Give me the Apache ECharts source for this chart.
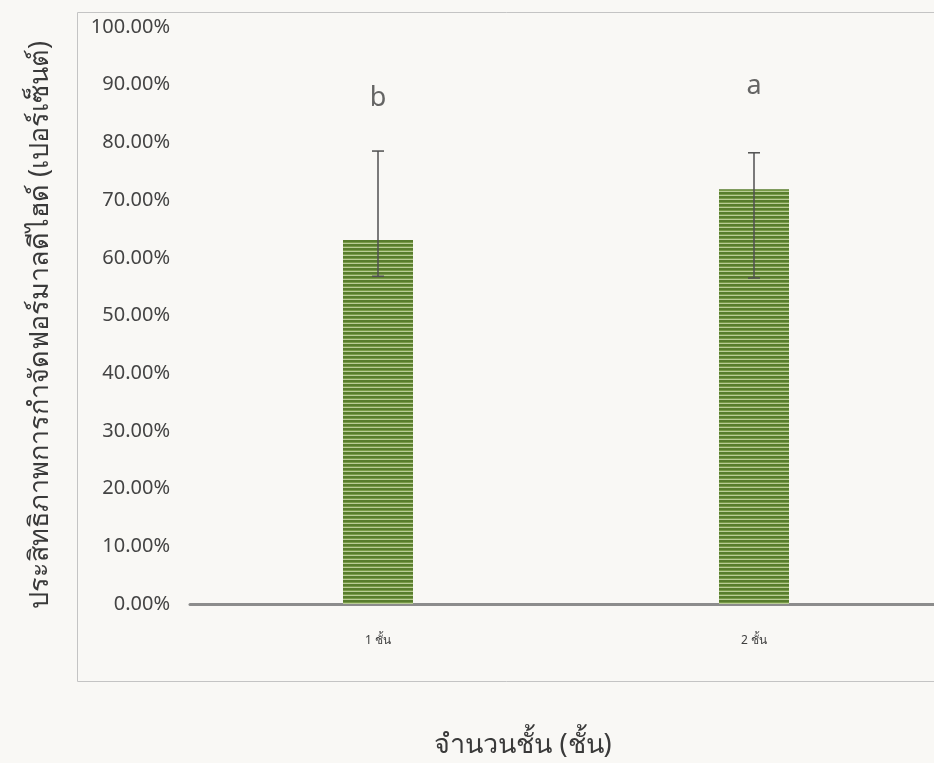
<!DOCTYPE html>
<html>
<head>
<meta charset="utf-8">
<script src="https://cdn.jsdelivr.net/npm/echarts@6/dist/echarts.min.js"></script>
<style>
  html, body { margin: 0; padding: 0; background: #f9f8f5; }
  #chart { width: 934px; height: 763px; }
</style>
</head>
<body>
<div id="chart"></div>
<script>
// Formaldehyde removal efficiency by number of layers
const categories = ['1 ชั้น', '2 ชั้น'];
const efficiency = [63.1, 71.9];          // mean, %
const errorHigh = [78.5, 78.2];           // upper end of error bar, %
const errorLow = [56.8, 56.5];            // lower end of error bar, %
const sigLetters = ['b', 'a'];            // significance groups
const letterHeights = [87.6, 89.8];       // where the group letters sit, %
const xTitle = 'จำนวนชั้น (ชั้น)';
const yTitle = 'ประสิทธิภาพการกำจัดฟอร์มาลดีไฮด์ (เปอร์เซ็นต์)';

const FONT = '"Noto Sans", "Open Sans", sans-serif';

// Horizontal-striped green fill for the bars
function stripePattern() {
  const c = document.createElement('canvas');
  c.width = 4; c.height = 4;
  const g = c.getContext('2d');
  g.fillStyle = '#587d2d'; g.fillRect(0, 0, 4, 4);
  g.fillStyle = '#789a48'; g.fillRect(0, 2, 4, 1);
  g.fillStyle = '#b9cc95'; g.fillRect(0, 3, 4, 1);
  return c;
}

const chart = echarts.init(document.getElementById('chart'), null, { renderer: 'canvas' });

chart.setOption({
  backgroundColor: '#f9f8f5',
  animation: false,
  graphic: [
    {
      type: 'rect',
      shape: { x: 77.5, y: 12.5, width: 900, height: 669 },
      style: { fill: 'none', stroke: '#c4c4c4', lineWidth: 1 },
      z: -1
    },
    {
      type: 'text',
      x: 523, y: 745,
      style: {
        text: xTitle, fontSize: 27, fill: '#3a3a3a', fontFamily: FONT,
        align: 'center', verticalAlign: 'middle'
      }
    },
    {
      type: 'text',
      x: 40, y: 325,
      rotation: Math.PI / 2,
      style: {
        text: yTitle, fontSize: 27, fill: '#3a3a3a', fontFamily: FONT,
        align: 'center', verticalAlign: 'middle'
      }
    }
  ],
  grid: { left: 190, right: -8, top: 27, bottom: 159, containLabel: false, outerBoundsMode: 'none' },
  xAxis: {
    type: 'category',
    data: categories,
    axisLine: { lineStyle: { color: '#8c8c8c', width: 3 } },
    axisTick: { show: false },
    axisLabel: { margin: 31, fontSize: 12, color: '#404040', fontFamily: FONT }
  },
  yAxis: {
    type: 'value',
    min: 0, max: 100, interval: 10,
    axisLine: { show: false },
    axisTick: { show: false },
    splitLine: { show: false },
    axisLabel: {
      margin: 20, fontSize: 20, color: '#444', fontFamily: FONT,
      formatter: v => v.toFixed(2) + '%'
    }
  },
  series: [
    {
      type: 'bar',
      data: efficiency,
      barWidth: 70,
      itemStyle: { color: { image: stripePattern(), repeat: 'repeat' } },
      z: 2
    },
    {
      type: 'custom',
      z: 3,
      data: categories.map((c, i) => [i, errorLow[i], errorHigh[i]]),
      renderItem: function (params, api) {
        const x = api.coord([api.value(0), 0])[0];
        const lo = api.coord([api.value(0), api.value(1)])[1];
        const hi = api.coord([api.value(0), api.value(2)])[1];
        const cap = 6;
        const st = { stroke: '#505050', lineWidth: 1.5 };
        return {
          type: 'group',
          children: [
            { type: 'line', shape: { x1: x, y1: lo, x2: x, y2: hi }, style: st },
            { type: 'line', shape: { x1: x - cap, y1: hi, x2: x + cap, y2: hi }, style: st },
            { type: 'line', shape: { x1: x - cap, y1: lo, x2: x + cap, y2: lo }, style: st }
          ]
        };
      }
    },
    {
      type: 'scatter',
      symbolSize: 0,
      data: letterHeights,
      label: {
        show: true,
        position: 'inside',
        formatter: p => sigLetters[p.dataIndex],
        fontSize: 27,
        color: '#404040',
        fontFamily: FONT
      },
      z: 4
    }
  ]
});
</script>
</body>
</html>
